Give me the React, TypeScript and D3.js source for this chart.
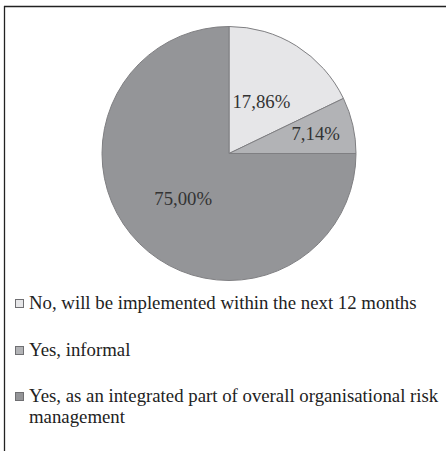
import React from "react";
import * as d3 from "d3";

const categories = [
  "No, will be implemented within the next 12 months",
  "Yes, informal",
  "Yes, as an integrated part of overall organisational risk management",
];
const values = [17.86, 7.14, 75.0];
const valueLabels = ["17,86%", "7,14%", "75,00%"];
const colors = ["#e6e6e8", "#b2b3b6", "#949598"];
const legendLines = [
  ["No, will be implemented within the next 12 months"],
  ["Yes, informal"],
  ["Yes, as an integrated part of overall organisational risk", "management"],
];

const W = 446;
const H = 451;
const cx = 229;
const cy = 153.5;
const R = 127;
const labelRadiusFactor = [0.48, 0.7, 0.51];
const FONT = "Liberation Serif";
const FS = 18.8;

export default function App() {
  const pie = d3.pie<number>().sort(null).value((d) => d);
  const arcs = pie(values);
  const arc = d3.arc<d3.PieArcDatum<number>>().innerRadius(0).outerRadius(R);
  const legendY = [309, 356, 402];

  return (
    <div style={{ position: "fixed", left: 0, top: 0, width: W, height: H }}>
      <svg width={W} height={H} style={{ display: "block" }}>
        <rect x={0} y={0} width={W} height={H} fill="#fff" />
        <line x1={4.5} y1={6} x2={4.5} y2={H} stroke="#222" strokeWidth={1.3} />
        <line x1={4} y1={6.5} x2={W} y2={6.5} stroke="#222" strokeWidth={1.3} />
        <g transform={`translate(${cx},${cy})`}>
          {arcs.map((a, i) => (
            <path key={i} d={arc(a) || ""} fill={colors[i]} stroke="#7f7f82" strokeWidth={1} />
          ))}
          {arcs.map((a, i) => {
            const mid = (a.startAngle + a.endAngle) / 2;
            const r = R * labelRadiusFactor[i];
            const x = Math.sin(mid) * r;
            const y = -Math.cos(mid) * r;
            return (
              <text
                key={"l" + i}
                x={x}
                y={y + 6}
                textAnchor="middle"
                fontFamily={FONT}
                fontSize={FS}
                fill="#333"
              >
                {valueLabels[i]}
              </text>
            );
          })}
        </g>
        {categories.map((c, i) => (
          <g key={"lg" + i}>
            <rect
              x={15.5}
              y={legendY[i] - 9.5}
              width={8}
              height={8}
              fill={colors[i]}
              stroke="#6f6f72"
              strokeWidth={1}
            />
            {legendLines[i].map((ln, j) => (
              <text
                key={j}
                x={29}
                y={legendY[i] + j * 21}
                fontFamily={FONT}
                fontSize={FS}
                fill="#222"
              >
                {ln}
              </text>
            ))}
          </g>
        ))}
      </svg>
    </div>
  );
}
